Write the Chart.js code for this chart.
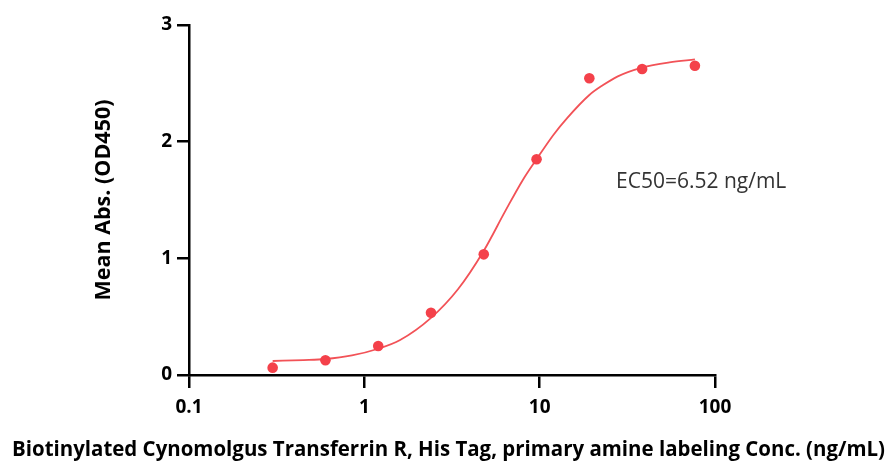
<!DOCTYPE html>
<html>
<head>
<meta charset="utf-8">
<script src="https://cdn.jsdelivr.net/npm/chart.js@4.4.1/dist/chart.umd.min.js"></script>
<style>
  html, body { margin: 0; padding: 0; background: #fff; }
  #chart { display: block; }
</style>
</head>
<body>
<canvas id="chart" width="891" height="464"></canvas>
<script>
// measured points (ng/mL vs mean OD450)
const concentrations = [0.3, 0.6, 1.2, 2.4, 4.8, 9.6, 19.2, 38.4, 76.8];
const meanAbs = [0.063, 0.126, 0.249, 0.534, 1.034, 1.849, 2.544, 2.623, 2.651];

// fitted curve
const curveConc = [0.3, 0.45, 0.6, 0.85, 1.2, 1.6, 2.4, 3.42, 4.8, 6.34, 8, 9.6, 12, 14.3, 19.2, 23, 27.9, 38.4, 55, 76.8];
const curveAbs = [0.12, 0.128, 0.137, 0.168, 0.225, 0.30, 0.49, 0.735, 1.065, 1.40, 1.67, 1.85, 2.06, 2.20, 2.40, 2.485, 2.56, 2.635, 2.68, 2.705];

const xTicks = [0.1, 1, 10, 100];
const yTicks = [0, 1, 2, 3];

const xTitle = 'Biotinylated Cynomolgus Transferrin R, His Tag, primary amine labeling Conc. (ng/mL)';
const yTitle = 'Mean Abs. (OD450)';
const ec50Label = 'EC50=6.52 ng/mL';

const tickFont = { family: 'Open Sans', size: 19, weight: 'bold' };

// x title is wider than the axis, so it is drawn here instead of by the scale
const extraText = {
    id: 'extraText',
    afterDraw(chart) {
        const ctx = chart.ctx;
        ctx.save();
        ctx.fillStyle = '#000';
        ctx.font = 'bold 20.5px "Open Sans"';
        ctx.textAlign = 'center';
        ctx.textBaseline = 'alphabetic';
        ctx.fillText(xTitle, 448.5, 456, 873);

        ctx.fillStyle = '#333';
        ctx.font = '21px "Open Sans"';
        ctx.textAlign = 'left';
        ctx.fillText(ec50Label, 616, 188, 172);
        ctx.restore();
    }
};

const axisGrid = {
    display: true,
    drawOnChartArea: false,
    drawTicks: true,
    lineWidth: 2.5,
    color: '#000',
    tickColor: '#000'
};

new Chart(document.getElementById('chart'), {
    type: 'scatter',
    data: {
        datasets: [
            {
                label: 'fit',
                data: curveConc.map((c, i) => ({ x: c, y: curveAbs[i] })),
                showLine: true,
                cubicInterpolationMode: 'monotone',
                borderColor: '#f25257',
                borderWidth: 1.8,
                pointRadius: 0,
                order: 2
            },
            {
                label: 'data',
                data: concentrations.map((c, i) => ({ x: c, y: meanAbs[i] })),
                showLine: false,
                pointRadius: 5.3,
                pointBackgroundColor: '#f4414a',
                pointBorderWidth: 0,
                order: 1
            }
        ]
    },
    options: {
        responsive: false,
        animation: false,
        events: [],
        layout: { padding: { left: 0, right: 176, top: 25, bottom: 0 } },
        plugins: {
            legend: { display: false },
            tooltip: { enabled: false }
        },
        scales: {
            x: {
                type: 'logarithmic',
                min: 0.1,
                max: 100,
                afterBuildTicks: s => { s.ticks = xTicks.map(v => ({ value: v })); },
                afterFit: s => { s.height = 89; },
                grid: { ...axisGrid, tickLength: 13 },
                border: { display: true, color: '#000', width: 2.5 },
                ticks: {
                    font: tickFont,
                    color: '#000',
                    padding: 8,
                    maxRotation: 0,
                    autoSkip: false,
                    callback: v => String(v)
                }
            },
            y: {
                min: 0,
                max: 3,
                afterBuildTicks: s => { s.ticks = yTicks.map(v => ({ value: v })); },
                afterFit: s => { s.width = 189; },
                grid: { ...axisGrid, tickLength: 12 },
                border: { display: true, color: '#000', width: 2.5 },
                ticks: {
                    font: tickFont,
                    color: '#000',
                    padding: 5,
                    callback: v => String(v)
                },
                title: {
                    display: true,
                    text: yTitle,
                    color: '#000',
                    font: { family: 'Open Sans', size: 21.5, weight: 'bold' },
                    padding: { top: 91, bottom: 0 }
                }
            }
        }
    },
    plugins: [extraText]
});
</script>
</body>
</html>
